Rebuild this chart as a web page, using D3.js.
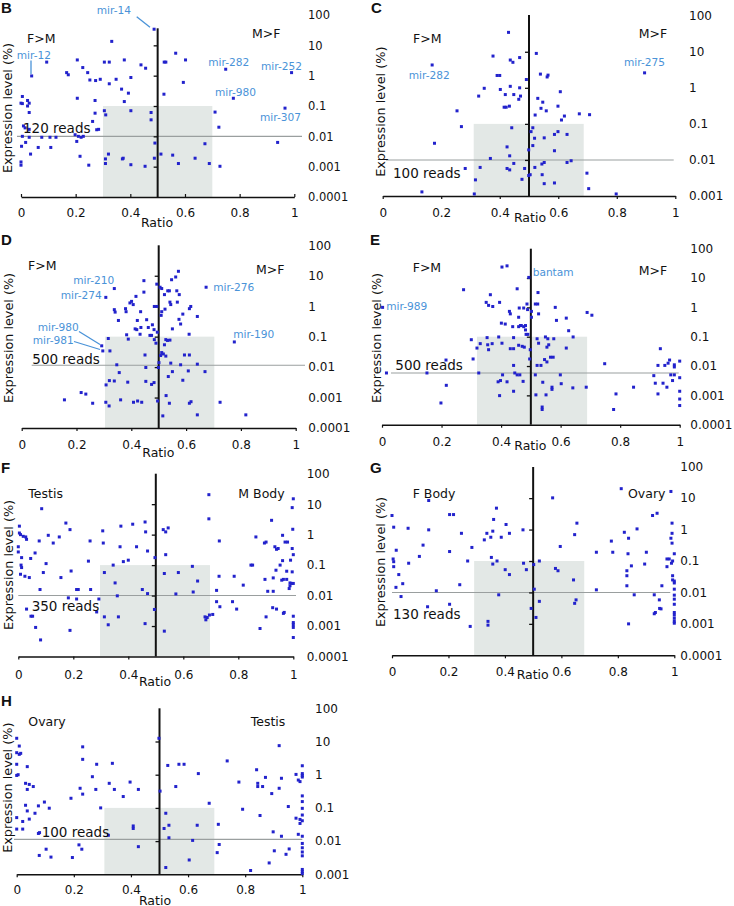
<!DOCTYPE html>
<html><head><meta charset="utf-8">
<script src="https://cdn.jsdelivr.net/npm/d3@7"></script>
<style>body{margin:0;background:#fff}svg{display:block;font-family:"DejaVu Sans",Verdana,sans-serif}</style>
</head><body><svg id="c" width="734" height="906"></svg>
<script>
// ---- data: [ratio, expression level (%)] ----
const dataB=[[0.487,34],[0.332,13.5],[0.094,2.8],[0.206,3.3],[0.226,1.85],[0.244,1.26],[0.167,1.26],[0.173,1.07],[0.039,0.98],[0.252,0.72],[0.273,0.69],[0.29,0.76],[0.305,2.8],[0.323,2.8],[0.378,3.3],[0.348,0.76],[0.323,0.54],[0.402,0.87],[0.368,0.36],[0.393,0.265],[0.439,2.27],[0.456,1.76],[0.206,0.18],[0.271,0.152],[0.378,0.14],[0.402,0.07],[0.305,0.07],[0.31,0.051],[0.271,0.058],[0.262,0.031],[0.277,0.0165],[0.284,0.017],[0.476,0.061],[0.476,0.035],[0.005,0.206],[0,0.124],[0.005,0.12],[0.024,0.152],[0.03,0.124],[0.024,0.1],[0.03,0.061],[0.009,0.022],[0.015,0.019],[0.03,0.017],[0.005,0.01],[0.03,0.0093],[0.076,0.0093],[0.106,0.0093],[0.128,0.0093],[0.198,0.0113],[0.21,0.01],[0.22,0.0093],[0.228,0.01],[0.204,0.0068],[0.017,0.0063],[0.002,0.0047],[0.063,0.0043],[0.109,0.0043],[0.035,0.0026],[0,0.00143],[0,0.00112],[0.216,0.0022],[0.248,0.00112],[0.32,0.0026],[0.309,0.0018],[0.309,0.00127],[0.371,0.0018],[0.374,0.0019],[0.402,0.00116],[0.454,0.00103],[0.488,0.0019],[0.49,0.006],[0.566,5.5],[0.602,3.3],[0.524,2.8],[0.53,2.8],[0.594,0.6],[0.523,0.245],[0.749,1.63],[0.777,0.18],[0.99,1.26],[0.966,0.085],[0.71,0.063],[0.724,0.02],[0.673,0.0057],[0.939,0.0063],[0.512,0.0026],[0.555,0.0024],[0.637,0.0019],[0.576,0.00127],[0.689,0.00127],[0.728,0.00103]];
const dataC=[[0.43,34.5],[0.377,7.6],[0.468,6.9],[0.436,5.9],[0.445,5.1],[0.525,9],[0.169,4.3],[0.895,2.6],[0.391,2.2],[0.4,2.2],[0.539,2.4],[0.565,2.25],[0.562,2.0],[0.491,1.7],[0.347,0.97],[0.436,1.1],[0.468,1.0],[0.402,0.9],[0.607,0.78],[0.328,0.59],[0.419,0.65],[0.448,0.65],[0.471,0.59],[0.465,0.48],[0.53,0.51],[0.547,0.4],[0.415,0.29],[0.422,0.29],[0.433,0.31],[0.541,0.27],[0.559,0.23],[0.599,0.31],[0.254,0.23],[0.521,0.176],[0.621,0.165],[0.611,0.128],[0.672,0.19],[0.707,0.18],[0.269,0.084],[0.441,0.078],[0.513,0.078],[0.507,0.061],[0.587,0.051],[0.599,0.061],[0.63,0.051],[0.177,0.029],[0.519,0.04],[0.552,0.041],[0.513,0.025],[0.425,0.023],[0.499,0.019],[0.587,0.018],[0.434,0.013],[0.368,0.011],[0.448,0.008],[0.552,0.0085],[0.544,0.0077],[0.63,0.0085],[0.644,0.0095],[0.282,0.0058],[0.333,0.0062],[0.425,0.0058],[0.434,0.0053],[0.485,0.0058],[0.52,0.0062],[0.499,0.0037],[0.504,0.0039],[0.545,0.0039],[0.698,0.0043],[0.317,0.0028],[0.476,0.0029],[0.552,0.0022],[0.587,0.0023],[0.704,0.0016],[0.134,0.0013],[0.313,0.00114],[0.798,0.00114]];
const dataD=[[0.572,14],[0.562,9.1],[0.547,7.4],[0.446,6.9],[0.493,5.3],[0.505,4.2],[0.511,3.8],[0.338,3.8],[0.673,4.2],[0.446,2.9],[0.533,3.2],[0.539,3.2],[0.566,3.2],[0.521,2.4],[0.575,2.4],[0.307,1.95],[0.417,2.1],[0.401,1.44],[0.395,1.28],[0.407,1.13],[0.541,1.36],[0.544,1.13],[0.568,1.36],[0.484,0.98],[0.493,0.98],[0.617,0.98],[0.612,0.83],[0.338,0.77],[0.341,0.64],[0.379,0.83],[0.381,0.66],[0.434,0.66],[0.511,0.66],[0.523,0.8],[0.509,0.5],[0.641,0.46],[0.588,0.55],[0.353,0.34],[0.422,0.34],[0.456,0.36],[0.574,0.37],[0.477,0.245],[0.58,0.26],[0.414,0.18],[0.42,0.17],[0.435,0.2],[0.462,0.2],[0.483,0.17],[0.55,0.18],[0.495,0.14],[0.383,0.115],[0.432,0.12],[0.468,0.11],[0.474,0.11],[0.611,0.12],[0.389,0.083],[0.484,0.08],[0.49,0.061],[0.526,0.08],[0.541,0.077],[0.532,0.075],[0.521,0.054],[0.776,0.067],[0.316,0.087],[0.292,0.05],[0.296,0.034],[0.322,0.034],[0.511,0.03],[0.517,0.027],[0.507,0.024],[0.526,0.023],[0.45,0.025],[0.594,0.025],[0.612,0.025],[0.501,0.014],[0.544,0.0135],[0.347,0.0119],[0.58,0.0119],[0.641,0.0125],[0.453,0.0097],[0.499,0.0097],[0.356,0.0066],[0.55,0.0071],[0.608,0.0075],[0.669,0.0071],[0.535,0.0049],[0.338,0.0035],[0.32,0.0036],[0.387,0.0032],[0.453,0.0034],[0.483,0.0031],[0.474,0.0027],[0.588,0.0037],[0.308,0.0026],[0.217,0.00146],[0.234,0.0013],[0.527,0.00116],[0.156,0.00084],[0.259,0.00065],[0.307,0.0007],[0.319,0.00053],[0.361,0.00084],[0.408,0.0007],[0.423,0.00077],[0.438,0.0007],[0.496,0.00077],[0.539,0.00065],[0.612,0.00065],[0.618,0.00073],[0.724,0.0007],[0.515,0.00025],[0.641,0.00027],[0.818,0.00027]];
const dataE=[[0.403,23.7],[0.42,26],[0.493,10.5],[0.274,4],[0.454,4.3],[0.524,3.2],[0.364,2.7],[0.35,1.48],[0.395,1.48],[0.358,1.17],[0.372,1.07],[0.487,1.3],[0.515,1.3],[0.523,1.3],[0.461,0.95],[0.476,0.95],[0.489,0.84],[0.582,1.0],[0.002,1.0],[0.428,0.73],[0.431,0.6],[0.502,0.73],[0.526,0.6],[0.689,0.67],[0.705,0.54],[0.459,0.46],[0.502,0.46],[0.619,0.43],[0.586,0.36],[0.401,0.29],[0.414,0.27],[0.465,0.24],[0.439,0.22],[0.459,0.22],[0.468,0.24],[0.476,0.22],[0.482,0.24],[0.482,0.17],[0.627,0.16],[0.484,0.12],[0.49,0.12],[0.642,0.098],[0.392,0.098],[0.442,0.093],[0.3,0.079],[0.353,0.093],[0.521,0.085],[0.549,0.098],[0.557,0.085],[0.577,0.085],[0.33,0.058],[0.355,0.053],[0.37,0.058],[0.403,0.06],[0.459,0.051],[0.471,0.047],[0.478,0.044],[0.526,0.06],[0.554,0.044],[0.56,0.053],[0.619,0.041],[0.319,0.041],[0.358,0.036],[0.431,0.039],[0.442,0.039],[0.498,0.036],[0.935,0.039],[0.306,0.0174],[0.215,0.016],[0.566,0.02],[0.575,0.02],[0.496,0.0174],[0.546,0.0166],[0.554,0.0138],[0.521,0.0105],[0.534,0.0105],[0.442,0.0105],[0.748,0.012],[0.927,0.0105],[0.95,0.0105],[0.966,0.016],[0.961,0.0125],[0.982,0.011],[0.982,0.0093],[1,0.0147],[0.015,0.0058],[0.151,0.0058],[0.325,0.0058],[0.446,0.0058],[0.454,0.005],[0.463,0.005],[0.405,0.005],[0.515,0.005],[0.599,0.005],[0.913,0.0047],[0.97,0.005],[0.982,0.005],[0.976,0.0032],[1,0.004],[0.398,0.0032],[0.39,0.0029],[0.42,0.0029],[0.474,0.003],[0.54,0.0028],[0.602,0.0025],[0.918,0.0026],[0.944,0.0026],[0.216,0.0022],[0.571,0.0019],[0.571,0.0016],[0.641,0.0018],[0.686,0.0019],[0.845,0.0019],[0.957,0.0019],[0.442,0.00138],[0.786,0.00112],[0.927,0.00112],[1,0.00138],[0.395,0.00098],[0.517,0.00104],[0.551,0.00104],[1,0.00075],[0.198,0.00055],[1,0.00045],[0.538,0.0004],[0.538,0.00033],[0.778,0.00033]];
const dataF=[[0.693,20.5],[1,15],[0.996,7.7],[0.085,7.1],[0.693,3.3],[0.921,2.95],[0.004,1.9],[0.173,2.4],[0.188,1.46],[0.307,1.33],[0.373,1.9],[0.416,2.2],[0.461,2.6],[0.463,1.23],[0.527,1.46],[0.536,1.23],[0.545,1.66],[0.998,1.5],[0.004,1.13],[0.008,1.0],[0.018,0.88],[0.027,0.84],[0.03,0.7],[0.109,0.95],[0.149,0.84],[0.127,0.53],[0.076,0.62],[0.261,0.62],[0.309,0.53],[0.864,0.84],[0.731,0.62],[0.895,0.53],[0.901,0.57],[0.961,0.95],[0.97,0.57],[0.979,0.57],[0.933,0.4],[0.939,0.33],[0.945,0.35],[0,0.4],[0,0.27],[0.061,0.25],[0.37,0.4],[0.43,0.4],[0.47,0.29],[0.536,0.22],[0.996,0.35],[1,0.22],[0.012,0.176],[0.045,0.165],[0.497,0.176],[0.4,0.145],[0.382,0.13],[0.255,0.135],[0.961,0.14],[0.99,0.145],[0.101,0.112],[0.01,0.1],[0.012,0.083],[0.345,0.1],[0.846,0.1],[0.852,0.1],[0.633,0.091],[0.952,0.1],[0.937,0.068],[0.976,0.063],[0.996,0.06],[0.008,0.05],[0.091,0.057],[0.192,0.064],[0.313,0.057],[0.531,0.053],[0.582,0.057],[0.024,0.043],[0.04,0.039],[0.155,0.039],[0.73,0.043],[0.785,0.043],[0.927,0.038],[0.958,0.032],[0.964,0.034],[0.976,0.034],[0.897,0.034],[0.652,0.03],[0.352,0.026],[0.988,0.026],[0.994,0.025],[0.988,0.021],[1,0.025],[0.818,0.022],[0.985,0.017],[0.907,0.0138],[0.927,0.0138],[0.079,0.0158],[0.212,0.0158],[0.218,0.0158],[0.263,0.0158],[0.451,0.0158],[0.47,0.0116],[0.721,0.0148],[0.636,0.0131],[0.573,0.0113],[0.36,0.0098],[0.182,0.0084],[0.212,0.0077],[0.293,0.0077],[0.721,0.0063],[0.779,0.0063],[0.733,0.0043],[0.794,0.0036],[0.925,0.004],[0.939,0.0036],[0.964,0.0026],[0.967,0.0028],[0.03,0.0036],[0.495,0.0035],[0.285,0.0029],[0.046,0.0021],[0.052,0.0021],[0.313,0.002],[0.364,0.002],[0.679,0.002],[0.687,0.0019],[0.682,0.0016],[0.695,0.0023],[0.707,0.0024],[0.901,0.002],[1,0.0021],[0.327,0.0011],[0.461,0.0012],[1,0.0013],[1,0.0011],[1,0.0009],[0.879,0.00083],[0.063,0.0009],[0.188,0.00072],[0.531,0.00068],[1,0.00042],[0.081,0.00035]];
const dataG=[[0.812,20],[0.988,16.3],[0.13,8.4],[0.569,10.2],[0.37,4.8],[0,2.8],[0.204,3.0],[0.218,3.0],[0.939,3.3],[0.923,2.8],[0.36,2.1],[0.655,1.6],[0.992,1.6],[0.404,1.45],[0.006,1.19],[0.057,1.1],[0.13,0.98],[0.464,0.98],[0.868,1.05],[0.823,0.82],[0.336,0.76],[0.357,0.89],[0.416,0.76],[0.246,0.76],[0.992,0.76],[0.647,0.69],[0.35,0.57],[0.387,0.57],[0.327,0.47],[0.838,0.53],[0.988,0.53],[0.777,0.43],[0.992,0.37],[0.11,0.32],[0.283,0.27],[0.596,0.29],[0.015,0.22],[0.204,0.2],[0.724,0.19],[0.782,0.19],[0.836,0.17],[0.901,0.19],[1,0.17],[0.097,0.14],[0.352,0.13],[0.004,0.116],[0.006,0.095],[0.059,0.085],[0.268,0.1],[0.357,0.08],[0.372,0.1],[0.466,0.085],[0.522,0.1],[0.502,0.077],[0.974,0.116],[0.982,0.116],[0.994,0.1],[0.99,0.085],[0.974,0.066],[0.895,0.08],[0.848,0.07],[0.832,0.049],[0.579,0.058],[0.588,0.049],[0.401,0.053],[0.476,0.053],[0.006,0.066],[0.416,0.037],[0.024,0.037],[0.832,0.034],[0.994,0.034],[0.643,0.025],[0.994,0.025],[1,0.023],[1,0.02],[0.038,0.019],[0.24,0.0176],[0.832,0.0163],[0.956,0.0163],[0.014,0.0145],[0.157,0.0113],[0.504,0.0127],[0.724,0.0121],[1,0.0127],[0.032,0.0074],[0.378,0.0084],[0.858,0.0084],[0.929,0.0084],[1,0.0082],[1,0.0061],[0.947,0.0058],[0.522,0.0052],[0.652,0.0058],[0.647,0.0045],[0.204,0.0042],[0.126,0.0035],[0.493,0.0031],[1,0.0042],[0.948,0.0031],[0.953,0.003],[0.933,0.0023],[0.929,0.0021],[1,0.0023],[1,0.0019],[1,0.0015],[1,0.0012],[1,0.00105],[0.51,0.0016],[0.34,0.0012],[0.34,0.00091],[0.277,0.00083],[0.838,0.001]];
const dataH=[[0,12.5],[0.498,12.5],[0.009,7.3],[0.231,6.9],[0,4.6],[0.009,4.1],[0.014,4.4],[0,2.06],[0.037,1.75],[0.231,2.9],[0.28,2.06],[0.335,2.2],[0,0.95],[0.005,1.0],[0.265,0.87],[0.031,0.55],[0.044,0.51],[0.058,0.44],[0.037,0.36],[0.222,0.39],[0.277,0.36],[0.231,0.26],[0.19,0.195],[0.324,0.55],[0.342,0.36],[0.373,0.22],[0.397,0.6],[0.426,0.36],[0.502,0.32],[0.097,0.15],[0.031,0.12],[0.076,0.115],[0.114,0.098],[0.294,0.1],[0.037,0.081],[0.064,0.069],[0,0.051],[0.044,0.046],[0.021,0.039],[0,0.023],[0.021,0.023],[0.076,0.017],[0.08,0.018],[0.321,0.015],[0.408,0.0286],[0.408,0.024],[0.426,0.0068],[0.218,0.0077],[0.228,0.0057],[0.103,0.0057],[0.079,0.0037],[0.12,0.0033],[0.195,0.0032],[0.522,0.069],[0.533,0.03],[0.516,0.024],[0.533,0.0126],[0.632,0.03],[0.616,0.0105],[0.604,0.0027],[0.522,0.0016],[0.529,1.9],[0.568,2.06],[0.586,2.06],[0.557,0.44],[0.636,1.08],[0.674,0.138],[0.706,0.032],[0.709,0.0079],[0.702,0.0045],[0.919,7.5],[0.737,2.6],[1,1.86],[0.84,1.41],[0.978,1.02],[1,1.08],[1,0.95],[1,0.85],[0.871,0.83],[0.927,0.78],[0.986,0.69],[0.992,0.62],[0.778,0.6],[0.844,0.55],[0.844,0.44],[0.861,0.44],[0.919,0.39],[0.893,0.27],[1,0.23],[1,0.155],[1,0.097],[0.951,0.11],[0.791,0.091],[1,0.061],[0.852,0.059],[0.978,0.049],[0.992,0.045],[1,0.041],[0.992,0.034],[0.898,0.019],[0.927,0.014],[0.986,0.016],[1,0.014],[1,0.0085],[1,0.0063],[0.954,0.0058],[0.902,0.0051],[1,0.0047],[0.943,0.004],[1,0.0036],[0.884,0.0022],[1,0.0014],[1,0.0012],[1,0.00105],[0.819,0.0013]];

const xTickValues=[0,0.2,0.4,0.6,0.8,1];
const xTickLabels=["0","0.2","0.4","0.6","0.8","1"];
const yTickValues=[100,10,1,0.1,0.01,0.001,0.0001];
const yTickLabels=["100","10","1","0.1","0.01","0.001","0.0001"];
const thresholds={B:0.01,C:0.01,D:0.0115,E:0.0058,F:0.01,G:0.01,H:0.0113};
const readsLabels={B:"120 reads",C:"100 reads",D:"500 reads",E:"500 reads",F:"350 reads",G:"130 reads",H:"100 reads"};
const sideLabels={B:["F>M","M>F"],C:["F>M","M>F"],D:["F>M","M>F"],E:["F>M","M>F"],F:["Testis","M Body"],G:["F Body","Ovary"],H:["Ovary","Testis"]};
const shadeRanges={B:[0.3,0.7],C:[0.311,0.687],D:[0.304,0.703],E:[0.319,0.689],F:[0.297,0.697],G:[0.291,0.681],H:[0.307,0.692]};
const annotations={
 B:[{t:"mir-14",x:96.7,y:10,l:[136.7,16.7,150,27.3]},{t:"mir-12",x:16.7,y:55,l:[31,60.5,31,74]},{t:"mir-282",x:208.3,y:61.7},{t:"mir-252",x:261,y:66},{t:"mir-980",x:215,y:91.7},{t:"mir-307",x:260,y:117.3}],
 C:[{t:"mir-282",x:408.7,y:75},{t:"mir-275",x:624,y:61.7}],
 D:[{t:"mir-210",x:73.3,y:280.3},{t:"mir-274",x:60.7,y:294.7},{t:"mir-276",x:213.3,y:287},{t:"mir-190",x:233.3,y:334},{t:"mir-980",x:37.7,y:327,l:[79,331.5,100,344.5]},{t:"mir-981",x:32.7,y:340.3,l:[74,341.5,100,349.5]}],
 E:[{t:"bantam",x:532.7,y:272.3},{t:"mir-989",x:386.3,y:306.3}],
 F:[],G:[],H:[]
};

// ---- layout ----
const layout=[
 {id:"B",data:dataB,x0:21,x1:294.3,yTop:15,yBot:197,yMin:1e-4,vTop:28.3,thrX:[17,302],reads:[23,127.7],left:[27,38],right:[252,33],lblX:308,xLblY:212.5,ratio:[157,222.7],yTitle:[7,108],letter:[1,7],tickUp:true,fs:11.5},
 {id:"C",data:dataC,x0:382.7,x1:675.3,yTop:15.7,yBot:196,yMin:1e-3,vTop:15,thrX:[386,673.7],reads:[393,173],left:[413,38],right:[638.7,33],lblX:689,xLblY:212.3,ratio:[530,217],yTitle:[380.3,111.7],letter:[371,7],tickUp:false,fs:12},
 {id:"D",data:dataD,x0:21.7,x1:295.7,yTop:245.3,yBot:428,yMin:1e-4,vTop:245.3,thrX:[31.7,305],reads:[32.3,359],left:[28,265.3],right:[256,269.7],lblX:308.3,xLblY:444.7,ratio:[158.3,452],yTitle:[8.3,338],letter:[1,239.7],tickUp:false,fs:12},
 {id:"E",data:dataE,x0:382,x1:679.7,yTop:248.7,yBot:424.7,yMin:1e-4,vTop:248.7,thrX:[391,678.7],reads:[395.3,365.3],left:[412.7,267],right:[638.7,270.7],lblX:690.3,xLblY:441.3,ratio:[530.3,445.3],yTitle:[376.3,338],letter:[370,239.7],tickUp:false,fs:12},
 {id:"F",data:dataF,x0:18.3,x1:293.3,yTop:473.7,yBot:656.5,yMin:1e-4,vTop:473.7,thrX:[18.3,296],reads:[31.7,606],left:[28.3,493.7],right:[238.3,493.7],lblX:306.7,xLblY:674.7,ratio:[155,681],yTitle:[8.3,565],letter:[1,467],tickUp:false,fs:12},
 {id:"G",data:dataG,x0:392,x1:674.3,yTop:466.7,yBot:655.3,yMin:1e-4,vTop:467,thrX:[392,670.3],reads:[393,614.3],left:[412.7,493.7],right:[628,493.7],lblX:680.3,xLblY:672,ratio:[532.7,674.7],yTitle:[380.3,562],letter:[370,467.7],tickUp:false,fs:12},
 {id:"H",data:dataH,x0:16.7,x1:302.3,yTop:708.3,yBot:874.3,yMin:1e-3,vTop:708.3,thrX:[14,302.3],reads:[41.7,831.7],left:[28.3,721],right:[250.7,721],lblX:315,xLblY:889.3,ratio:[155,900],yTitle:[7.3,787.7],letter:[1,700],tickUp:false,fs:12}
];

const svg=d3.select("#c");
const BLUE="#2222cc", ANN="#4a93d8";

layout.forEach(p=>{
 const g=svg.append("g");
 const x=d3.scaleLinear().domain([0,1]).range([p.x0,p.x1]);
 const y=d3.scaleLog().domain([p.yMin,100]).range([p.yBot,p.yTop]);
 const sr=shadeRanges[p.id];
 g.append("rect").attr("x",x(sr[0])).attr("width",x(sr[1])-x(sr[0]))
  .attr("y",y(0.1)).attr("height",p.yBot-y(0.1)).attr("fill","#e3e8e6");
 g.append("line").attr("x1",p.thrX[0]).attr("x2",p.thrX[1])
  .attr("y1",y(thresholds[p.id])).attr("y2",y(thresholds[p.id]))
  .attr("stroke","#9a9f9f").attr("stroke-width",1.1);
 const xa=d3.axisBottom(x).tickValues(xTickValues).tickFormat((d,i)=>xTickLabels[i])
  .tickSizeOuter(0).tickSizeInner(p.tickUp?-3:3).tickPadding(p.xLblY-p.yBot-4.3-(p.tickUp?0:3));
 const xg=g.append("g").attr("transform",`translate(0,${p.yBot})`).call(xa);
 xg.select(".domain").attr("stroke","#111").attr("stroke-width",1.6);
 xg.selectAll(".tick line").attr("stroke","#111").attr("stroke-width",1.2);
 xg.selectAll("text").attr("font-size",12).attr("fill","#111").attr("font-family","DejaVu Sans");
 const vt=yTickValues.filter(v=>v>p.yMin && y(v)>p.vTop+2);
 const va=d3.axisLeft(y).tickValues(vt).tickSize(4).tickFormat("");
 const vg=g.append("g").attr("transform",`translate(${x(0.5)},0)`).call(va);
 vg.select(".domain").remove();
 vg.selectAll(".tick line").attr("stroke","#111").attr("stroke-width",1.3);
 g.append("line").attr("x1",x(0.5)).attr("x2",x(0.5)).attr("y1",p.vTop).attr("y2",p.yBot)
  .attr("stroke","#111").attr("stroke-width",2);
 const rv=yTickValues.filter(v=>v>=p.yMin);
 const ra=d3.axisRight(y).tickValues(rv).tickSize(0).tickPadding(0)
  .tickFormat(d=>yTickLabels[yTickValues.indexOf(d)]);
 const rg=g.append("g").attr("transform",`translate(${p.lblX},0)`).call(ra);
 rg.select(".domain").remove();
 rg.selectAll("text").attr("font-size",p.fs).attr("fill","#111").attr("font-family","DejaVu Sans");
 g.selectAll("rect.pt").data(p.data).enter().append("rect").attr("class","pt")
  .attr("x",d=>x(d[0])-1.5).attr("y",d=>y(d[1])-1.5).attr("width",3).attr("height",3).attr("fill",BLUE);
 const txt=(s,xx,yy,fs,fill,anchor)=>g.append("text").text(s).attr("x",xx).attr("y",yy)
  .attr("dominant-baseline","central").attr("font-size",fs).attr("fill",fill).attr("text-anchor",anchor||"start");
 txt(readsLabels[p.id],p.reads[0],p.reads[1],13.5,"#111");
 txt(sideLabels[p.id][0],p.left[0],p.left[1],12.5,"#111");
 txt(sideLabels[p.id][1],p.right[0],p.right[1],12.5,"#111");
 txt("Ratio",p.ratio[0],p.ratio[1],12.5,"#111","middle");
 g.append("text").text("Expression level (%)").attr("transform",`translate(${p.yTitle[0]},${p.yTitle[1]}) rotate(-90)`)
  .attr("text-anchor","middle").attr("dominant-baseline","central").attr("font-size",12.8).attr("fill","#111");
 g.append("text").text(p.id).attr("x",p.letter[0]).attr("y",p.letter[1]).attr("dominant-baseline","central")
  .attr("font-family","Liberation Sans, Arial, sans-serif").attr("font-weight","bold").attr("font-size",15).attr("fill","#111");
 annotations[p.id].forEach(a=>{
  txt(a.t,a.x,a.y,10.6,ANN);
  if(a.l) g.append("line").attr("x1",a.l[0]).attr("y1",a.l[1]).attr("x2",a.l[2]).attr("y2",a.l[3])
    .attr("stroke",ANN).attr("stroke-width",1.3);
 });
});
</script></body></html>
